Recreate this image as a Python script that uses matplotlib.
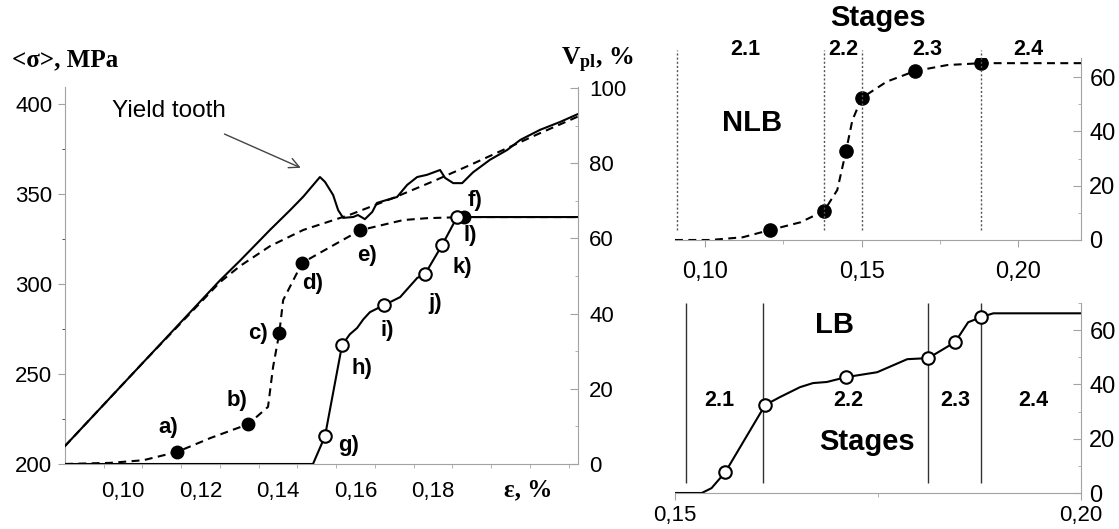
import matplotlib.pyplot as plt
from matplotlib.ticker import FixedLocator, MultipleLocator

# stress-strain curve, main panel
strain_sigma = [0.0850, 0.0950, 0.1050, 0.1150, 0.1250, 0.1302, 0.1379, 0.1431,
                0.1465, 0.1508, 0.1521, 0.1542, 0.1555, 0.1568, 0.1594, 0.1606,
                0.1624, 0.1643, 0.1655, 0.1681, 0.1707, 0.1733, 0.1759, 0.1784,
                0.1818, 0.1831, 0.1852, 0.1875, 0.1903, 0.1947, 0.1991, 0.2025,
                0.2076, 0.2128, 0.2174]
sigma = [210.0, 233.0, 256.0, 279.0, 302.0, 313.0, 330.0, 341.0,
         348.5, 359.4, 356.7, 349.4, 341.0, 336.7, 337.2, 338.3,
         336.0, 340.0, 345.0, 346.7, 348.3, 355.0, 359.4, 360.6,
         363.3, 358.9, 356.0, 356.0, 362.0, 369.0, 374.4, 380.0,
         385.6, 390.0, 394.4]

# fitted (dashed) stress curve
strain_fit = [0.0850, 0.1050, 0.1250, 0.1302, 0.1379, 0.1465, 0.1586, 0.1700,
              0.1800, 0.1900, 0.2068, 0.2174]
sigma_fit = [210.0, 256.0, 301.0, 310.0, 321.0, 330.0, 338.5, 348.0,
             357.0, 366.5, 383.0, 393.0]

# plastic volume fraction, NLB model (dashed, filled points a-f)
nlb_x = [0.0850, 0.0966, 0.1052, 0.1139, 0.1225, 0.1323, 0.1374, 0.1387,
         0.1403, 0.1413, 0.1462, 0.1534, 0.1612, 0.1723, 0.1784, 0.1880, 0.2174]
nlb_y = [0.0, 0.3, 1.0, 3.2, 6.9, 10.6, 15.2, 25.8,
         34.8, 43.6, 53.5, 57.7, 62.2, 64.9, 65.4, 65.7, 65.7]
nlb_pts_x = [0.1139, 0.1323, 0.1403, 0.1462, 0.1612, 0.1880]
nlb_pts_y = [3.2, 10.6, 34.8, 53.5, 62.2, 65.7]
nlb_names = ['a)', 'b)', 'c)', 'd)', 'e)', 'f)']
nlb_name_x = [0.1116, 0.1294, 0.1348, 0.1488, 0.1630, 0.1908]
nlb_name_y = [9.6, 17.0, 34.8, 48.1, 55.6, 70.2]

# plastic volume fraction, LB model (solid, open points g-l)
lb_x = [0.0850, 0.1490, 0.1521, 0.1565, 0.1585, 0.1604, 0.1620, 0.1637,
        0.1674, 0.1715, 0.1759, 0.1779, 0.1823, 0.1862, 0.2174]
lb_y = [0.0, 0.0, 7.4, 31.6, 34.5, 36.2, 38.5, 40.4,
        42.3, 44.4, 49.5, 50.5, 58.2, 65.7, 65.7]
lb_pts_x = [0.1521, 0.1565, 0.1674, 0.1779, 0.1823, 0.1862]
lb_pts_y = [7.4, 31.6, 42.3, 50.5, 58.2, 65.7]
lb_names = ['g)', 'h)', 'i)', 'j)', 'k)', 'l)']
lb_name_x = [0.1581, 0.1617, 0.1681, 0.1805, 0.1875, 0.1895]
lb_name_y = [5.0, 25.5, 35.6, 42.8, 52.4, 60.8]

# NLB detail panel
nlb2_x = [0.0904, 0.1016, 0.1120, 0.1208, 0.1304, 0.1380, 0.1422, 0.1450,
          0.1470, 0.1500, 0.1580, 0.1670, 0.1773, 0.1882, 0.2200]
nlb2_y = [0.0, 0.0, 1.0, 3.7, 6.5, 10.7, 18.4, 32.8,
          44.0, 52.3, 58.3, 62.2, 64.4, 65.1, 65.1]
nlb2_pts_x = [0.1208, 0.1380, 0.1450, 0.1500, 0.1670, 0.1882]
nlb2_pts_y = [3.7, 10.7, 32.8, 52.3, 62.2, 65.1]
nlb2_bounds = [0.0911, 0.1380, 0.1500, 0.1882]
nlb2_stage_x = [0.1128, 0.1441, 0.1709, 0.2032]

# LB detail panel
lb2_x = [0.1500, 0.1533, 0.1545, 0.1562, 0.1611, 0.1629, 0.1654, 0.1670,
         0.1687, 0.1711, 0.1749, 0.1786, 0.1812, 0.1845, 0.1861, 0.1877,
         0.1892, 0.2000]
lb2_y = [0.0, 0.0, 1.8, 7.7, 32.4, 35.3, 39.0, 40.5,
         40.9, 42.7, 44.5, 49.3, 49.7, 55.6, 62.9, 64.8,
         66.2, 66.2]
lb2_pts_x = [0.1562, 0.1611, 0.1711, 0.1812, 0.1845, 0.1877]
lb2_pts_y = [7.7, 32.4, 42.7, 49.7, 55.6, 64.8]
lb2_bounds = [0.1514, 0.1608, 0.1812, 0.1877]
lb2_stage_x = [0.1555, 0.1713, 0.1845, 0.1941]

stage_names = ['2.1', '2.2', '2.3', '2.4']

plt.rcParams['font.family'] = ['Liberation Sans', 'DejaVu Sans']
plt.rcParams['mathtext.fontset'] = 'custom'
plt.rcParams['mathtext.rm'] = 'Liberation Serif'
plt.rcParams['mathtext.it'] = 'Liberation Serif:italic'
plt.rcParams['mathtext.bf'] = 'Liberation Serif:bold'

GREY = '#a3a3a3'
DASH = (0, (3.8, 2.6))
W, H = 1119, 529


def box(x0, y0, x1, y1):
    # pixel box (top-left origin) -> figure fractions
    return [x0 / W, 1 - y1 / H, (x1 - x0) / W, (y1 - y0) / H]


def dec(v, n=2):
    return f'{v:.{n}f}'.replace('.', ',')


fig = plt.figure(figsize=(W / 100, H / 100), dpi=100)

# ---- main panel: stress (left axis) + V_pl (right axis)
ax = fig.add_axes(box(65, 87, 578, 464))
ax.plot(strain_sigma, sigma, color='black', lw=1.5, zorder=3)
ax.plot(strain_fit, sigma_fit, color='black', lw=1.5, ls=DASH, zorder=3)
ax.set_xlim(0.0850, 0.2174)
ax.set_ylim(200, 409.4)
ax.yaxis.set_major_locator(MultipleLocator(50))
ax.yaxis.set_minor_locator(MultipleLocator(25))
ax.xaxis.set_major_locator(FixedLocator([0.10, 0.12, 0.14, 0.16, 0.18]))
ax.set_xticklabels([dec(v) for v in [0.10, 0.12, 0.14, 0.16, 0.18]])
ax.xaxis.set_minor_locator(FixedLocator([0.095 + 0.01 * i for i in range(13)]))
ax.tick_params(axis='y', which='major', length=5, color=GREY, labelsize=16, pad=4)
ax.tick_params(axis='y', which='minor', length=2.5, color='#333333')
ax.tick_params(axis='x', which='major', length=0, labelsize=16, pad=12)
ax.tick_params(axis='x', which='minor', length=3, color=GREY)
for s in ['top', 'right']:
    ax.spines[s].set_visible(False)
for s in ['left', 'bottom']:
    ax.spines[s].set_color(GREY)

ax.annotate('', xy=(0.1465, 363.9), xytext=(0.1255, 383.9),
            arrowprops=dict(arrowstyle='->', color='#444444', lw=1.0,
                            mutation_scale=18))
ax.text(0.1119, 396, 'Yield tooth', fontsize=17.5, ha='center', va='center')

ax2 = ax.twinx()
ax2.set_ylim(0, 100.3)
ax2.plot(nlb_x, nlb_y, color='black', lw=1.5, ls=DASH)
ax2.plot(lb_x, lb_y, color='black', lw=1.5)
ax2.plot(nlb_pts_x, nlb_pts_y, 'o', ms=9, color='black')
ax2.plot(lb_pts_x, lb_pts_y, 'o', ms=9, mfc='white', mec='black', mew=1.5)
for name, x, y in zip(nlb_names + lb_names, nlb_name_x + lb_name_x,
                      nlb_name_y + lb_name_y):
    ax2.text(x, y, name, fontsize=16, fontweight='bold', ha='center', va='center')
ax2.yaxis.set_major_locator(MultipleLocator(20))
ax2.yaxis.set_minor_locator(MultipleLocator(10))
ax2.tick_params(axis='y', which='major', direction='in', length=6, color=GREY,
                labelsize=16, pad=8)
ax2.tick_params(axis='y', which='minor', direction='in', length=2.5, color=GREY)
for s in ['top', 'left', 'bottom']:
    ax2.spines[s].set_visible(False)
ax2.spines['right'].set_color(GREY)

fig.text(12 / W, 1 - 60 / H, '<σ>, MPa', family='Liberation Serif',
         fontweight='bold', fontsize=18, ha='left', va='center')
fig.text(597 / W, 1 - 60 / H, r'$\mathbf{V_{pl}}$, %', family='Liberation Serif',
         fontweight='bold', fontsize=18.5, ha='center', va='center')
fig.text(528 / W, 1 - 490 / H, 'ε, %', family='Liberation Serif',
         fontweight='bold', fontsize=18, ha='center', va='center')

# ---- NLB detail panel
at = fig.add_axes(box(675, 58, 1081, 240))
at.plot(nlb2_x, nlb2_y, color='black', lw=1.5, ls=DASH)
at.plot(nlb2_pts_x, nlb2_pts_y, 'o', ms=9.5, color='black')
at.vlines(nlb2_bounds, 3.7, 70, colors='#555555', linestyles=(0, (1.5, 1.5)),
          lw=1.0, clip_on=False)
for name, x in zip(stage_names, nlb2_stage_x):
    at.text(x, 70, name, fontsize=15.5, fontweight='bold', ha='center', va='center')
at.text(0.1553, 81.7, 'Stages', fontsize=21, fontweight='bold', ha='center',
        va='center')
at.text(0.1150, 43, 'NLB', fontsize=21, fontweight='bold', ha='center', va='center')
at.set_xlim(0.0904, 0.2200)
at.set_ylim(0, 67)
at.xaxis.set_major_locator(FixedLocator([0.10, 0.15, 0.20]))
at.set_xticklabels([dec(v) for v in [0.10, 0.15, 0.20]])
at.xaxis.set_minor_locator(FixedLocator([0.125, 0.175]))
at.yaxis.tick_right()
at.yaxis.set_major_locator(MultipleLocator(20))
at.yaxis.set_minor_locator(MultipleLocator(10))
at.tick_params(axis='x', which='major', length=5, color=GREY, labelsize=17, pad=10)
at.tick_params(axis='x', which='minor', length=3, color=GREY)
at.tick_params(axis='y', which='major', direction='in', length=6, color=GREY,
               labelsize=17, pad=6)
at.tick_params(axis='y', which='minor', direction='in', length=2.5, color=GREY)
for s in ['top', 'left']:
    at.spines[s].set_visible(False)
for s in ['right', 'bottom']:
    at.spines[s].set_color(GREY)

# ---- LB detail panel
ab = fig.add_axes(box(675, 303, 1081, 493))
ab.plot(lb2_x, lb2_y, color='black', lw=1.5)
ab.vlines(lb2_bounds, 3.6, 70, colors='#333333', lw=1.0)
ab.plot(lb2_pts_x, lb2_pts_y, 'o', ms=9, mfc='white', mec='black', mew=1.5)
for name, x in zip(stage_names, lb2_stage_x):
    ab.text(x, 34, name, fontsize=15.5, fontweight='bold', ha='center', va='center')
ab.text(0.1697, 61.8, 'LB', fontsize=21, fontweight='bold', ha='center', va='center')
ab.text(0.1736, 18.8, 'Stages', fontsize=21, fontweight='bold', ha='center',
        va='center')
ab.set_xlim(0.15, 0.20)
ab.set_ylim(0, 70)
ab.xaxis.set_major_locator(FixedLocator([0.15, 0.20]))
ab.set_xticklabels([dec(v) for v in [0.15, 0.20]])
ab.xaxis.set_minor_locator(FixedLocator([0.175]))
ab.yaxis.tick_right()
ab.yaxis.set_major_locator(MultipleLocator(20))
ab.yaxis.set_minor_locator(MultipleLocator(10))
ab.tick_params(axis='x', which='major', length=5, color=GREY, labelsize=16, pad=4)
ab.tick_params(axis='x', which='minor', length=3, color=GREY)
ab.tick_params(axis='y', which='major', direction='in', length=6, color=GREY,
               labelsize=17, pad=6)
ab.tick_params(axis='y', which='minor', direction='in', length=2.5, color=GREY)
for s in ['top', 'left']:
    ab.spines[s].set_visible(False)
for s in ['right', 'bottom']:
    ab.spines[s].set_color(GREY)

fig.savefig('out.png', dpi=100)
